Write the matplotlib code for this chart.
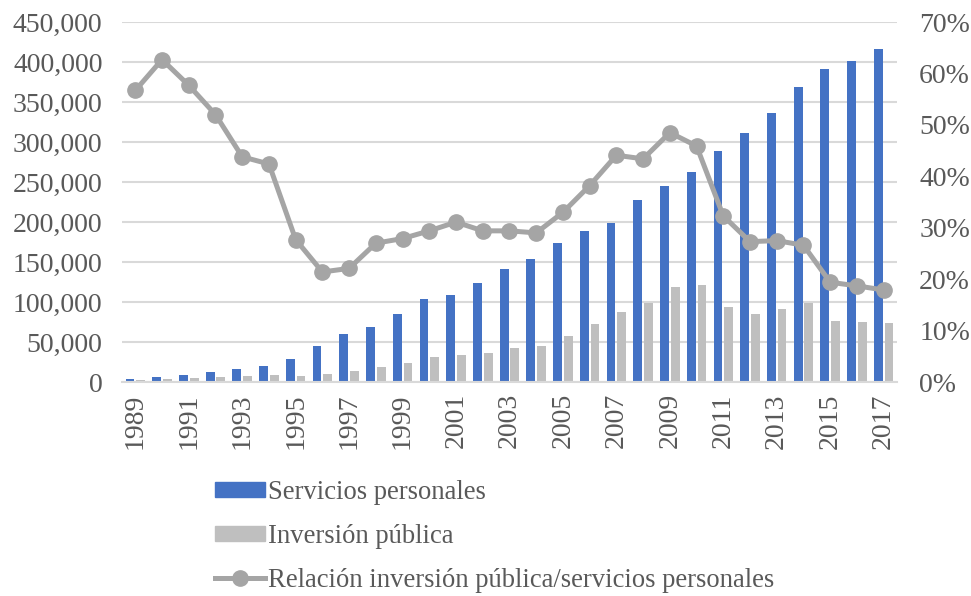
import numpy as np
import matplotlib
matplotlib.use("Agg")
import matplotlib.pyplot as plt
from matplotlib.ticker import FuncFormatter, MultipleLocator
from matplotlib.lines import Line2D
from matplotlib.patches import Patch

plt.rcParams['font.family'] = ['Liberation Serif', 'DejaVu Serif']

years = list(range(1989, 2018))
servicios = [4000, 5800, 9000, 12900, 15800, 20000, 28700, 45400, 60000, 69100,
             85400, 103700, 109100, 123700, 141600, 154100, 174100, 188700, 198300,
             227900, 245400, 262900, 288700, 311600, 335800, 368700, 391200,
             401600, 415800]
inversion = [2300, 3600, 5200, 6700, 7000, 8500, 8000, 9800, 13200, 18600,
             23300, 30800, 33700, 36300, 42100, 45000, 57500, 72000, 87000,
             98300, 119100, 120800, 93700, 84500, 91600, 98300, 75800, 75000,
             74100]
relacion = [56.7, 62.7, 57.7, 52.0, 43.8, 42.4, 27.7, 21.4, 22.1, 27.0, 27.9,
            29.4, 31.1, 29.4, 29.4, 29.0, 33.0, 38.2, 44.1, 43.4, 48.5, 45.9,
            32.3, 27.3, 27.5, 26.6, 19.4, 18.7, 17.9]

blue = '#4472C4'
light = '#BFBFBF'
line_c = '#A5A5A5'
txt = '#595959'

fig = plt.figure(figsize=(9.71, 5.96), dpi=100)
ax = fig.add_axes([0.1256, 0.359, 0.7982, 0.604])

x = np.arange(len(years))
ax.bar(x - 0.2, servicios, width=0.33, color=blue, zorder=2)
ax.bar(x + 0.2, inversion, width=0.33, color=light, zorder=2)

ax.set_xlim(-0.5, len(years) - 0.5)
ax.set_ylim(0, 450000)
ax.yaxis.set_major_locator(MultipleLocator(50000))
ax.yaxis.set_major_formatter(FuncFormatter(lambda v, p: f'{v:,.0f}'))
ax.grid(axis='y', color='#D9D9D9', linewidth=1.5, zorder=0)
ax.set_axisbelow(True)
for s in ['top', 'right', 'left']:
    ax.spines[s].set_visible(False)
ax.spines['bottom'].set_color('#D9D9D9')
ax.spines['bottom'].set_linewidth(1.5)

ax.set_xticks(x[::2])
ax.set_xticklabels([str(y) for y in years[::2]], rotation=90)
ax.tick_params(axis='x', length=0, pad=8, labelsize=20, labelcolor=txt)
ax.tick_params(axis='y', length=0, pad=14, labelsize=20, labelcolor=txt)

ax2 = ax.twinx()
ax2.plot(x, relacion, color=line_c, linewidth=3.6, marker='o', markersize=11,
         zorder=3)
ax2.set_ylim(0, 70)
ax2.yaxis.set_major_locator(MultipleLocator(10))
ax2.yaxis.set_major_formatter(FuncFormatter(lambda v, p: f'{v:.0f}%'))
ax2.tick_params(axis='y', length=0, pad=16, labelsize=20, labelcolor=txt)
for s in ax2.spines.values():
    s.set_visible(False)

handles = [
    Patch(color=blue),
    Patch(color=light),
    Line2D([], [], color=line_c, linewidth=3.6, marker='o', markersize=11),
]
labels = ['Servicios personales', 'Inversión pública',
          'Relación inversión pública/servicios personales']
fig.legend(handles, labels, loc='upper left', bbox_to_anchor=(0.21, 0.212),
           frameon=False, fontsize=19.2, labelcolor=txt, handlelength=1.9,
           handleheight=0.5, handletextpad=0.1, labelspacing=0.7,
           borderaxespad=0)

fig.savefig('out.png', dpi=100)
